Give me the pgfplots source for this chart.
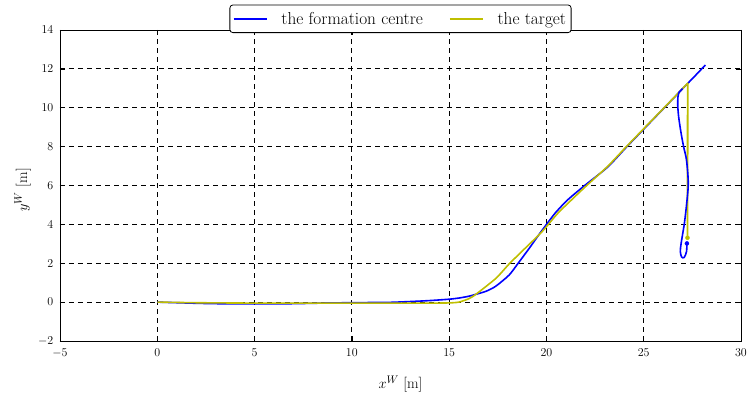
\documentclass[border=0pt]{standalone}
\usepackage{pgfplots}
\pgfplotsset{compat=1.18}

\definecolor{trajblue}{rgb}{0,0,1}
\definecolor{trajyellow}{rgb}{0.75,0.75,0}

\begin{document}
\begin{tikzpicture}
\path[use as bounding box] (0,0) rectangle (748pt,399pt);
\begin{axis}[
  at={(60pt,58pt)}, anchor=south west,
  scale only axis, width=681pt, height=311pt,
  xmin=-5, xmax=30, ymin=-2, ymax=14,
  xtick={-5,0,...,30}, ytick={-2,0,...,14},
  tick align=inside, major tick length=5pt,
  tick style={black, line width=0.7pt},
  axis line style={black, line width=0.9pt},
  grid=major,
  major grid style={black, dashed, line width=0.8pt, dash pattern=on 5pt off 4pt},
  ticklabel style={font=\fontsize{12}{14}\selectfont, inner sep=1pt},
  xticklabel style={yshift=-6.5pt},
  yticklabel style={xshift=-5.5pt},
  label style={font=\fontsize{15}{18}\selectfont},
  xlabel={$x^W$ [m]},
  ylabel={$y^W$ [m]},
  xlabel style={at={(axis description cs:0.5,-0.138)}, anchor=center},
  ylabel style={at={(axis description cs:-0.055,0.486)}, anchor=center, rotate=0},
  legend columns=2,
  legend style={
    at={(0.5,1.036)}, anchor=center,
    draw=black, line width=0.8pt, rounded corners=3pt,
    font=\fontsize{17.3}{20}\selectfont,
    inner xsep=3pt, inner ysep=5pt,
    /tikz/every odd column/.append style={column sep=12pt},
    /tikz/every even column/.append style={column sep=24pt},
  },
  legend cell align=left,
  legend image code/.code={\draw[#1, line width=1.6pt] (0pt,0pt) -- (33pt,0pt);},
]

% path of the formation centre
\addplot[trajblue, line width=1.6pt, smooth, tension=0.4] coordinates {
  (0,0) (1,-0.03) (2,-0.06) (3,-0.08) (4,-0.09) (5,-0.09) (6,-0.09)
  (7,-0.08) (8,-0.06) (9,-0.04) (10,-0.03) (11,-0.02) (12,-0.01)
  (13,0.03) (14,0.08) (15,0.15) (15.5,0.21) (16,0.3) (16.37,0.40)
  (16.9,0.56) (17.4,0.82) (18.08,1.39) (18.51,1.95) (19.11,2.76)
  (19.62,3.48) (20.14,4.18) (20.5,4.64) (21.08,5.25) (21.94,5.98)
  (23.14,6.94) (24.09,7.95) (25.29,9.2) (26.3,10.25) (27.0,10.98)
  (27.6,11.6) (28.17,12.2)
};
\addlegendentry{the formation centre}

% path of the target
\addplot[trajyellow, line width=1.6pt, smooth, tension=0.4] coordinates {
  (0,0) (2,-0.03) (5,-0.05) (10,-0.05) (14,-0.05) (15,-0.04)
  (15.5,0.0) (16,0.17) (16.37,0.40) (17.4,1.22) (18.08,1.96)
  (18.77,2.64) (19.45,3.3) (19.88,3.74) (20.4,4.36) (20.74,4.73)
  (21.94,5.88) (23.14,6.98) (24.09,7.98) (25.29,9.22) (26.3,10.26)
  (27.26,11.26)
};
\addlegendentry{the target}

% target drops down at the end
\addplot[trajyellow, line width=1.8pt, line cap=round, forget plot] coordinates {
  (27.26,11.26) (27.255,7.3) (27.25,3.31)
};
\addplot[trajyellow, only marks, mark=*, mark size=2pt, forget plot] coordinates {
  (27.25,3.31)
};

% formation centre following the target down
\addplot[trajblue, line width=1.6pt, smooth, tension=0.5, forget plot] coordinates {
  (27.0,10.98) (26.82,10.8) (26.76,10.55) (26.75,10.1) (26.8,9.5)
  (26.92,8.7) (27.05,8.0) (27.2,7.3) (27.29,6.1) (27.2,5.0)
  (27.09,4.05) (27.0,3.5) (26.92,3.0) (26.88,2.6) (26.95,2.32)
  (27.08,2.3) (27.2,2.6) (27.22,3.02)
};
\addplot[trajblue, only marks, mark=*, mark size=2pt, forget plot] coordinates {
  (27.22,3.02)
};

\end{axis}
\end{tikzpicture}
\end{document}
